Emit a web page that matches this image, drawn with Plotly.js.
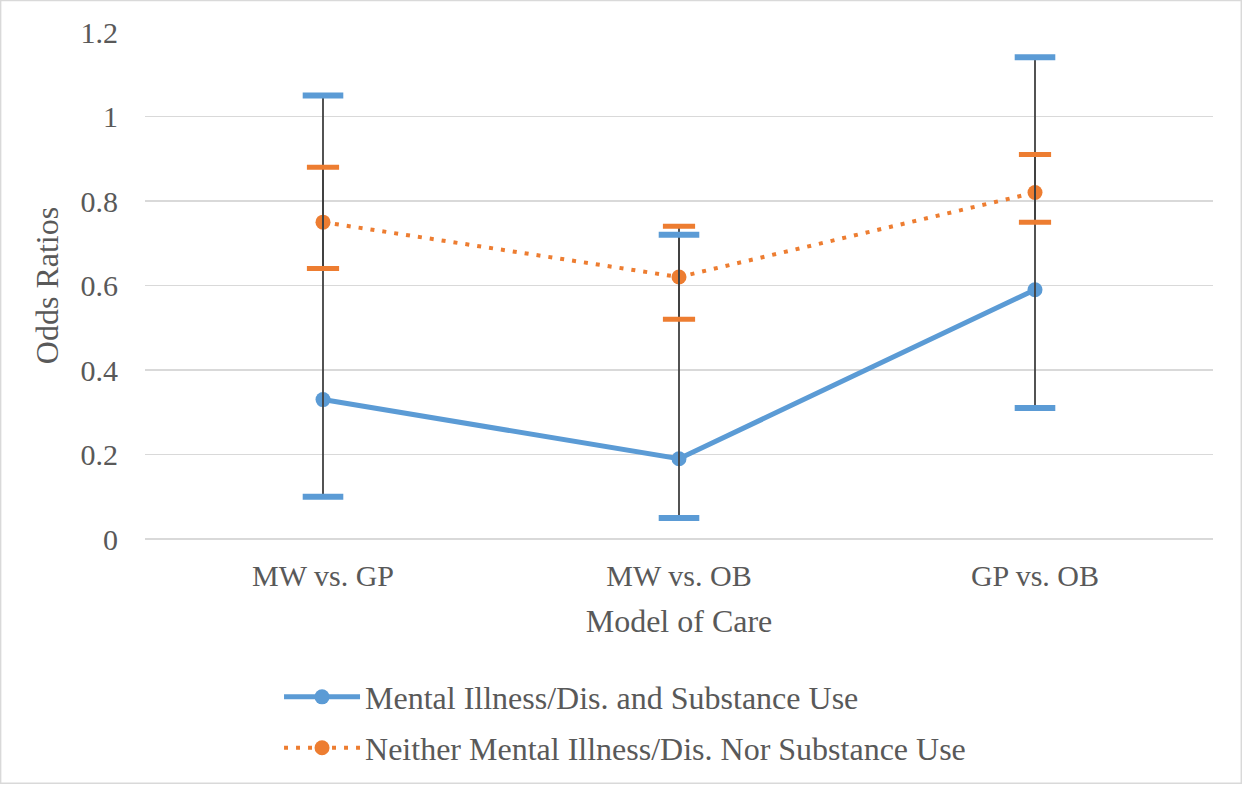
<!DOCTYPE html>
<html>
<head>
<meta charset="utf-8">
<script src="https://cdn.plot.ly/plotly-3.0.1.min.js"></script>
<style>html,body{margin:0;padding:0;background:#fff;}#chart{width:1242px;height:786px;}</style>
</head>
<body>
<div id="chart"></div>
<script>
var categories = ["MW vs. GP", "MW vs. OB", "GP vs. OB"];
var seriesNames = ["Mental Illness/Dis. and Substance Use", "Neither Mental Illness/Dis. Nor Substance Use"];
var miValues = [0.33, 0.19, 0.59];
var miLower = [0.10, 0.05, 0.31];
var miUpper = [1.05, 0.72, 1.14];
var neitherValues = [0.75, 0.62, 0.82];
var neitherLower = [0.64, 0.52, 0.75];
var neitherUpper = [0.88, 0.74, 0.91];

var BLUE = "#5b9bd5", ORANGE = "#ed7d31", STEM = "#404040";
var FONT = "'Liberation Serif', 'Times New Roman', serif";
var TICK = 30, TITLE = 32;

function diff(a, b) { return a.map(function (v, i) { return +(v - b[i]).toFixed(4); }); }

var traces = [
  {x: categories, y: miValues, name: seriesNames[0], type: "scatter", mode: "lines+markers",
   line: {color: BLUE, width: 5}, marker: {color: BLUE, size: 15}, legend: "legend"},
  {x: categories, y: neitherValues, name: seriesNames[1], type: "scatter", mode: "lines+markers",
   line: {color: ORANGE, width: 4, dash: "4px,8px"}, marker: {color: ORANGE, size: 15}, legend: "legend2"},
  {x: categories, y: miValues, type: "scatter", mode: "markers", showlegend: false, hoverinfo: "skip",
   marker: {size: 1, opacity: 0},
   error_y: {type: "data", symmetric: false, array: diff(miUpper, miValues), arrayminus: diff(miValues, miLower),
             color: STEM, thickness: 1.8, width: 0}},
  {x: categories, y: neitherValues, type: "scatter", mode: "markers", showlegend: false, hoverinfo: "skip",
   marker: {size: 1, opacity: 0},
   error_y: {type: "data", symmetric: false, array: diff(neitherUpper, neitherValues), arrayminus: diff(neitherValues, neitherLower),
             color: STEM, thickness: 1.8, width: 0}},
  {x: categories.concat(categories), y: miUpper.concat(miLower), type: "scatter", mode: "markers", showlegend: false, hoverinfo: "skip",
   marker: {symbol: "line-ew", size: 29, line: {color: BLUE, width: 6}}},
  {x: categories.concat(categories), y: neitherUpper.concat(neitherLower), type: "scatter", mode: "markers", showlegend: false, hoverinfo: "skip",
   marker: {symbol: "line-ew", size: 23, line: {color: ORANGE, width: 5}}}
];

var legendStyle = function (y) {
  return {x: 0.1255, y: y, xanchor: "left", yanchor: "top", orientation: "v",
          font: {family: FONT, size: TITLE, color: "#595959"}, itemwidth: 76, bgcolor: "rgba(0,0,0,0)"};
};

var layout = {
  width: 1242, height: 786,
  margin: {l: 145, r: 29, t: 32, b: 246},
  paper_bgcolor: "#ffffff", plot_bgcolor: "#ffffff",
  font: {family: FONT, size: TICK, color: "#595959"},
  showlegend: true,
  xaxis: {
    type: "category", range: [-0.5, 2.5], showgrid: false, zeroline: false, automargin: false,
    showline: false, ticks: "", ticklabelstandoff: 16,
    tickfont: {family: FONT, size: TICK, color: "#595959"},
    title: {text: "Model of Care", font: {family: FONT, size: TITLE, color: "#595959"}, standoff: 18}
  },
  yaxis: {
    range: [0, 1.2], dtick: 0.2, tick0: 0, showgrid: true, gridcolor: "#d9d9d9", gridwidth: 1.3,
    zeroline: true, zerolinecolor: "#d9d9d9", zerolinewidth: 1.3, showline: false, ticks: "", automargin: false,
    ticklabelstandoff: 26,
    tickfont: {family: FONT, size: TICK, color: "#595959"},
    title: {text: "Odds Ratios", font: {family: FONT, size: TITLE, color: "#595959"}, standoff: 12}
  },
  legend: legendStyle(-0.255),
  legend2: legendStyle(-0.3553),
  shapes: [{type: "rect", xref: "paper", yref: "paper", x0: -0.1352, x1: 1.0265, y0: -0.482, y1: 1.062,
            line: {color: "#d9d9d9", width: 1.5}, fillcolor: "rgba(0,0,0,0)"}]
};

Plotly.newPlot("chart", traces, layout, {displayModeBar: false, staticPlot: true});
</script>
</body>
</html>
